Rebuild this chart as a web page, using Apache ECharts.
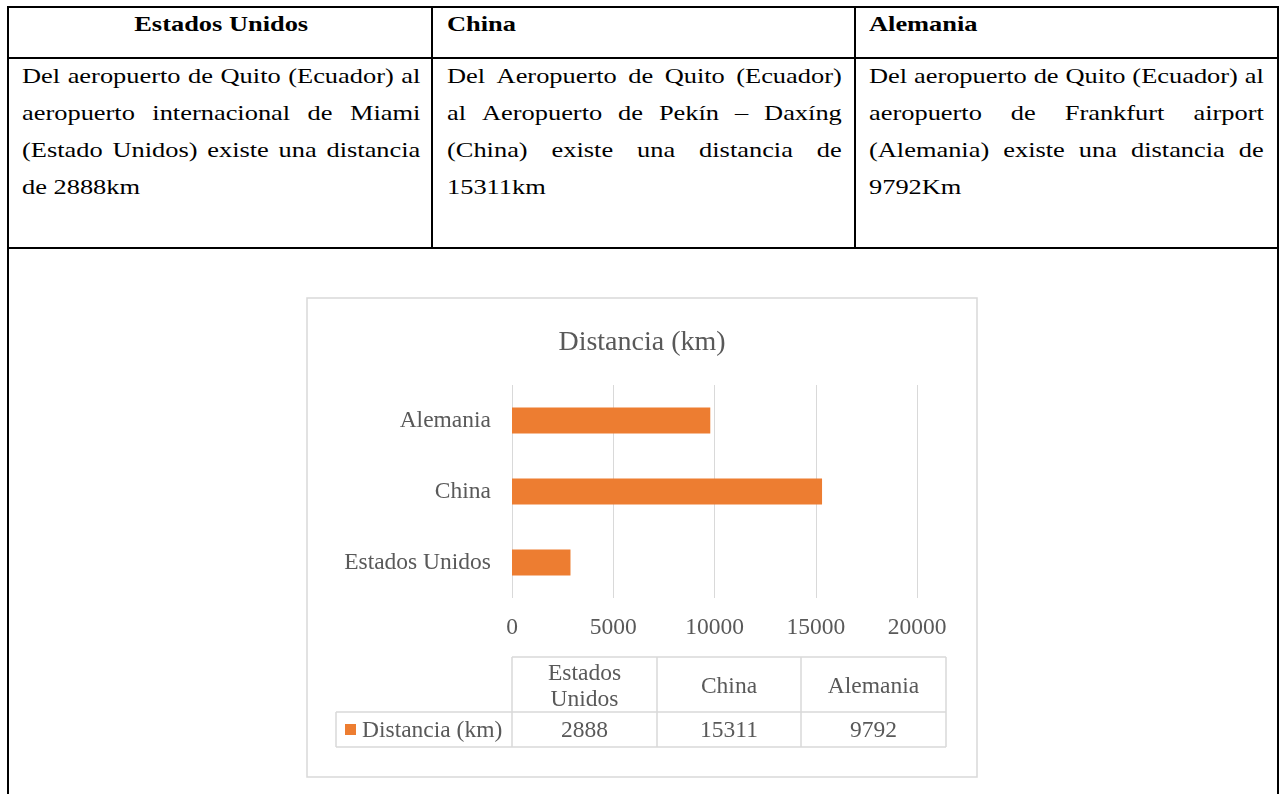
<!DOCTYPE html>
<html>
<head>
<meta charset="utf-8">
<script src="https://cdn.jsdelivr.net/npm/echarts@6/dist/echarts.min.js"></script>
<style>
  html, body { margin: 0; padding: 0; background: #fff; width: 1283px; height: 794px; overflow: hidden; }
  .ln { position: absolute; background: #000; }
  .tb { position: absolute; font-family: "Liberation Serif", "Times New Roman", serif; font-size: 22px; line-height: 37px; color: #000; transform: scaleX(1.2); transform-origin: 0 0; }
  .tb .j { display: flex; justify-content: space-between; white-space: nowrap; }
  .tb .j span { flex-shrink: 0; }
  .tb .l { white-space: nowrap; }
  .hd { font-weight: bold; }
  #chart { position: absolute; left: 306px; top: 297px; width: 672px; height: 482px; }
</style>
</head>
<body>
<div class="ln" style="left:7px;top:6px;width:1272px;height:2px"></div>
<div class="ln" style="left:7px;top:57px;width:1272px;height:2px"></div>
<div class="ln" style="left:7px;top:247px;width:1272px;height:2px"></div>
<div class="ln" style="left:7px;top:6px;width:2px;height:788px"></div>
<div class="ln" style="left:1277px;top:6px;width:2px;height:788px"></div>
<div class="ln" style="left:431px;top:6px;width:2px;height:243px"></div>
<div class="ln" style="left:854px;top:6px;width:2px;height:243px"></div>

<div id="h1" class="tb hd" style="left:22px;top:5px;width:332px;text-align:center">Estados Unidos</div>
<div id="h2" class="tb hd" style="left:447px;top:5px;width:329px">China</div>
<div id="h3" class="tb hd" style="left:869px;top:5px;width:329px">Alemania</div>

<div id="c1" class="tb" style="left:22px;top:57px;width:332px"></div>
<div id="c2" class="tb" style="left:447px;top:57px;width:329px"></div>
<div id="c3" class="tb" style="left:869px;top:57px;width:329px"></div>

<div id="chart"></div>

<script>
// ---- data ----
const categories = ['Estados Unidos', 'China', 'Alemania'];
const distances = [2888, 15311, 9792];
const seriesName = 'Distancia (km)';
const chartTitle = 'Distancia (km)';
const xTickLabels = ['0', '5000', '10000', '15000', '20000'];

const cellLines1 = ['Del aeropuerto de Quito (Ecuador) al', 'aeropuerto internacional de Miami', '(Estado Unidos) existe una distancia', 'de 2888km'];
const cellLines2 = ['Del Aeropuerto de Quito (Ecuador)', 'al Aeropuerto de Pekín – Daxíng', '(China) existe una distancia de', '15311km'];
const cellLines3 = ['Del aeropuerto de Quito (Ecuador) al', 'aeropuerto de Frankfurt airport', '(Alemania) existe una distancia de', '9792Km'];

// ---- document cells (justified lines) ----
function fillCell(id, lines) {
  const el = document.getElementById(id);
  lines.forEach((line, i) => {
    const d = document.createElement('div');
    if (i < lines.length - 1) {
      d.className = 'j';
      line.split(' ').forEach(w => { const s = document.createElement('span'); s.textContent = w; d.appendChild(s); });
    } else {
      d.className = 'l';
      d.textContent = line;
    }
    el.appendChild(d);
  });
}
fillCell('c1', cellLines1);
fillCell('c2', cellLines2);
fillCell('c3', cellLines3);

// ---- chart ----
const FONT = 'Liberation Serif';
const TXT = '#595959';
const GRID = '#d9d9d9';
const BAR = '#ed7d31';
const FS = 23.5;

const ctx = document.createElement('canvas').getContext('2d');
ctx.font = FS + 'px "' + FONT + '"';
function wrap(text, maxW) {
  if (ctx.measureText(text).width <= maxW) return text;
  const words = text.split(' ');
  const out = []; let cur = '';
  words.forEach(w => {
    const t = cur ? cur + ' ' + w : w;
    if (cur && ctx.measureText(t).width > maxW) { out.push(cur); cur = w; } else cur = t;
  });
  if (cur) out.push(cur);
  return out.join('\n');
}

// data table layout (chart-local pixels)
const colX = [206, 351, 495, 640];
const legendLeft = 30;
const rowY = [360, 415, 450];

const gfx = [];
gfx.push({ type: 'rect', shape: { x: 1, y: 1, width: 670, height: 479 }, style: { fill: 'none', stroke: GRID, lineWidth: 1.5 }, silent: true });
function line(x1, y1, x2, y2) {
  gfx.push({ type: 'line', shape: { x1, y1, x2, y2 }, style: { stroke: GRID, lineWidth: 1.5 }, silent: true });
}
line(colX[0], rowY[0], colX[3], rowY[0]);
line(legendLeft, rowY[1], colX[3], rowY[1]);
line(legendLeft, rowY[2], colX[3], rowY[2]);
line(legendLeft, rowY[1], legendLeft, rowY[2]);
colX.forEach(x => line(x, rowY[0], x, rowY[2]));

categories.forEach((c, i) => {
  const cx = (colX[i] + colX[i + 1]) / 2;
  gfx.push({ type: 'text', silent: true, style: {
    text: wrap(c, colX[i + 1] - colX[i] - 14), x: cx, y: (rowY[0] + rowY[1]) / 2 + 2,
    align: 'center', verticalAlign: 'middle', fontSize: FS, fontFamily: FONT, fill: TXT, lineHeight: 26 } });
  gfx.push({ type: 'text', silent: true, style: {
    text: String(distances[i]), x: cx, y: (rowY[1] + rowY[2]) / 2 + 1.5,
    align: 'center', verticalAlign: 'middle', fontSize: FS, fontFamily: FONT, fill: TXT } });
});
gfx.push({ type: 'rect', silent: true, shape: { x: 39, y: 427, width: 11, height: 11 }, style: { fill: BAR } });
gfx.push({ type: 'text', silent: true, style: {
  text: seriesName, x: 56, y: (rowY[1] + rowY[2]) / 2 + 1.5, align: 'left', verticalAlign: 'middle',
  fontSize: FS, fontFamily: FONT, fill: TXT } });

const chart = echarts.init(document.getElementById('chart'), null, { renderer: 'canvas' });
chart.setOption({
  animation: false,
  backgroundColor: 'transparent',
  title: {
    text: chartTitle, left: 'center', top: 27,
    textStyle: { fontSize: 28, fontWeight: 'normal', color: TXT, fontFamily: FONT, lineHeight: 28 }
  },
  grid: { left: 206, right: 61, top: 88, bottom: 181, containLabel: false },
  xAxis: {
    type: 'value', min: 0, max: 20000, interval: 5000,
    axisLine: { show: false }, axisTick: { show: false },
    splitLine: { show: true, lineStyle: { color: GRID, width: 1 } },
    axisLabel: {
      color: TXT, fontSize: FS, fontFamily: FONT, margin: 18, lineHeight: 24,
      formatter: (v) => xTickLabels[Math.round(v / 5000)] ?? String(v)
    }
  },
  yAxis: {
    type: 'category', data: categories,
    axisLine: { show: false }, axisTick: { show: false }, splitLine: { show: false },
    axisLabel: { color: TXT, fontSize: FS, fontFamily: FONT, margin: 21 }
  },
  series: [{
    name: seriesName, type: 'bar', data: distances, barWidth: 26,
    itemStyle: { color: BAR }
  }],
  graphic: gfx
});
</script>
</body>
</html>
